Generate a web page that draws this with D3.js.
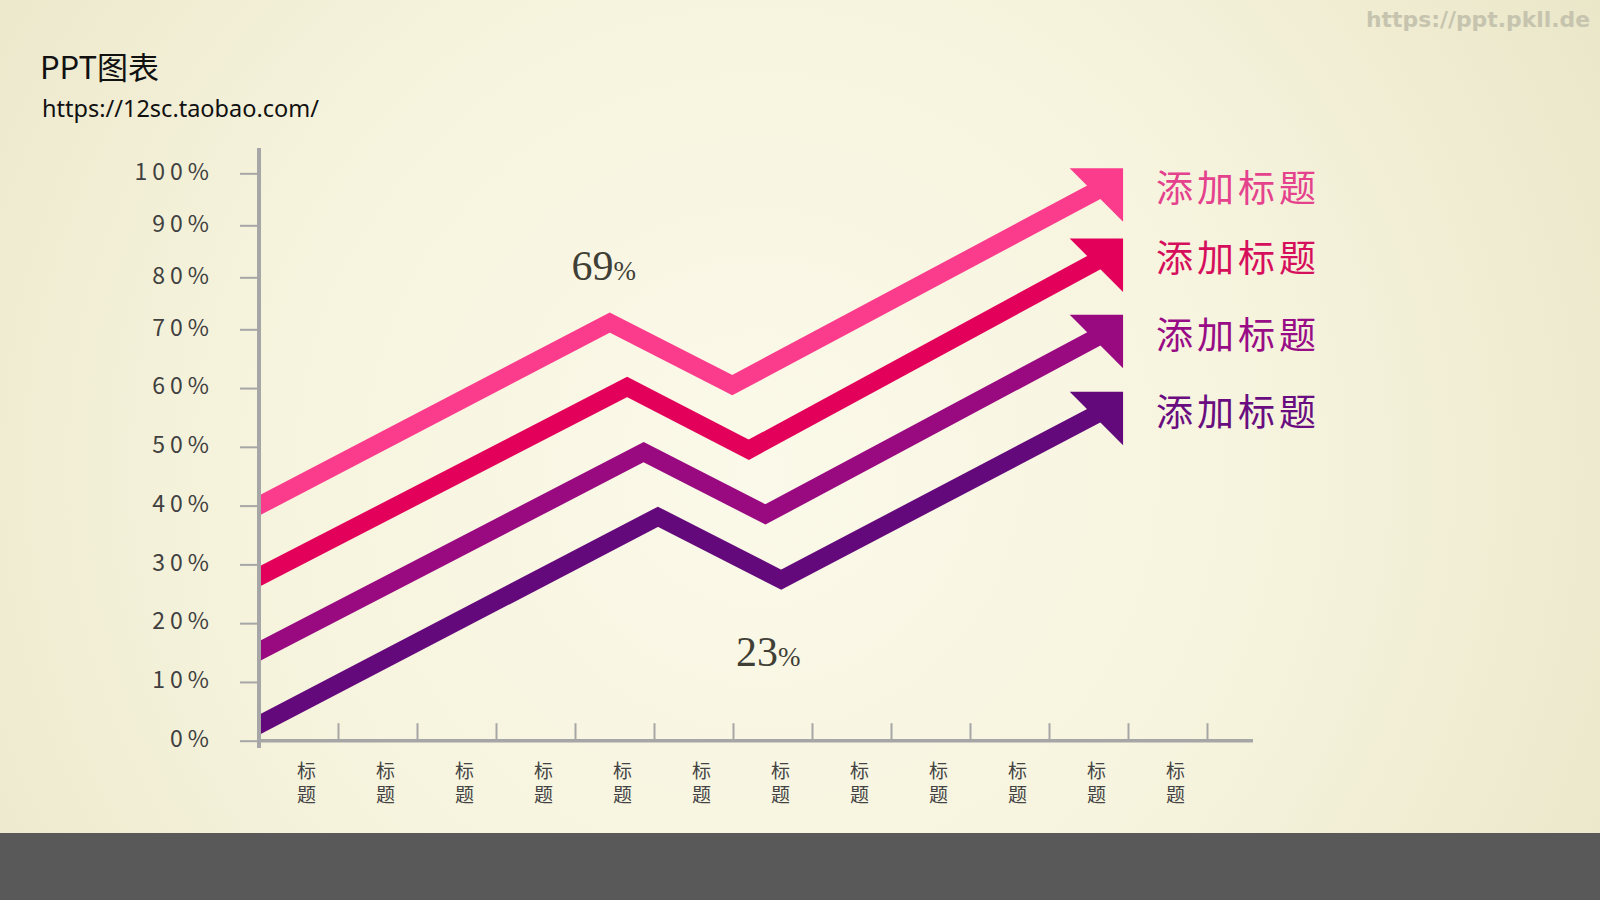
<!DOCTYPE html>
<html>
<head>
<meta charset="utf-8">
<script src="https://cdn.jsdelivr.net/npm/d3@7"></script>
<style>
  body { margin: 0; overflow: hidden; }
  svg { display: block; }
</style>
</head>
<body>
<div id="chart"></div>
<script>
// category labels along the bottom, one per band
const categories = ["标题", "标题", "标题", "标题", "标题", "标题", "标题", "标题", "标题", "标题", "标题", "标题"];
const yTickValues = [0, 10, 20, 30, 40, 50, 60, 70, 80, 90, 100];
const seriesLabels = ["添加标题", "添加标题", "添加标题", "添加标题"];
const seriesColors = ["#fb3b8b", "#e3005a", "#990a80", "#64097c"];
const labelColors = ["#e4428d", "#d60f5c", "#980c86", "#690d80"];

// [x in category widths from the y axis, y in percent]
const lineOne   = [[0, 40.0], [4.44, 71.3], [5.99, 60.5], [10.71, 97.5]];
const lineTwo   = [[0, 27.9], [4.66, 60.2], [6.20, 49.5], [10.71, 84.0]];
const lineThree = [[0, 15.2], [4.87, 49.1], [6.41, 38.5], [10.71, 69.4]];
const lineFour  = [[0, 2.7],  [5.05, 38.1], [6.61, 27.4], [10.71, 56.3]];
const seriesData = [lineOne, lineTwo, lineThree, lineFour];

// callout numbers: peak of the first line, trough of the last one
const calloutTexts = ["69", "23"];

const width = 1600, height = 900;
const svg = d3.select("#chart").append("svg")
  .attr("width", width).attr("height", height);

const defs = svg.append("defs");
const bg = defs.append("radialGradient").attr("id", "bg")
  .attr("gradientUnits", "userSpaceOnUse")
  .attr("cx", 760).attr("cy", 470).attr("r", 980);
bg.append("stop").attr("offset", "0%").attr("stop-color", "#fbf9e9");
bg.append("stop").attr("offset", "55%").attr("stop-color", "#f6f3dd");
bg.append("stop").attr("offset", "100%").attr("stop-color", "#e9e6c8");

svg.append("rect").attr("width", width).attr("height", height).attr("fill", "url(#bg)");
svg.append("rect").attr("y", 833).attr("width", width).attr("height", height - 833).attr("fill", "#595959");

// titles
svg.append("text").attr("x", 40).attr("y", 79)
  .attr("font-family", "'Noto Sans CJK SC', 'Noto Sans', sans-serif")
  .attr("font-size", 31).attr("fill", "#111").text("PPT图表");
svg.append("text").attr("x", 42).attr("y", 117)
  .attr("font-family", "'Noto Sans', 'Open Sans', sans-serif")
  .attr("font-size", 23.5).attr("fill", "#111").text("https://12sc.taobao.com/");
svg.append("text").attr("x", 1366).attr("y", 27)
  .attr("font-family", "'DejaVu Sans', sans-serif").attr("font-weight", "bold")
  .attr("font-size", 22).attr("fill", "#c6c4ae")
  .attr("textLength", 224).attr("lengthAdjust", "spacingAndGlyphs")
  .text("https://ppt.pkll.de");

// scales: the upper three tick steps are drawn shorter than the rest
const x = d3.scaleLinear().domain([0, 12]).range([259, 1207]);
const y = d3.scaleLinear().domain([0, 70, 100]).range([740.7, 329.3, 173.3]);
const band = d3.scaleBand().domain(d3.range(categories.length)).range([x(0), x(12)]);

const axisColor = "#a6a6a6";

// y axis
const yAxis = svg.append("g").attr("transform", `translate(${x(0) - 1},0)`)
  .call(d3.axisLeft(y).tickValues(yTickValues).tickSize(18).tickPadding(26)
    .tickFormat(d => d + "%"));
yAxis.select(".domain").remove();
yAxis.selectAll(".tick line").attr("stroke", axisColor).attr("stroke-width", 2);
yAxis.selectAll(".tick text")
  .attr("font-family", "'Noto Sans CJK SC', 'Noto Sans', sans-serif")
  .attr("font-size", 23).attr("fill", "#404040")
  .attr("letter-spacing", 5).attr("dy", "0.25em");

// x axis, ticks point up into the plot
const xAxis = svg.append("g").attr("transform", `translate(0,${y(0)})`)
  .call(d3.axisBottom(x).tickValues(d3.range(1, 13)).tickSize(-17.5).tickFormat(""));
xAxis.select(".domain").remove();
xAxis.selectAll(".tick line").attr("stroke", axisColor).attr("stroke-width", 2);

svg.selectAll(".cat").data(categories).join("text")
  .attr("class", "cat")
  .attr("transform", (d, i) => `translate(${band(i) + band.bandwidth() / 2 + 8},771)`)
  .attr("font-family", "'Noto Sans CJK SC', sans-serif")
  .attr("font-size", 19).attr("fill", "#444").attr("text-anchor", "middle")
  .selectAll("tspan").data(d => d.split("")).join("tspan")
  .attr("x", 0).attr("y", (c, j) => j * 24).attr("dy", "0.35em").text(c => c);

// lines, clipped at the y axis
defs.append("clipPath").attr("id", "plot")
  .append("rect").attr("x", x(0)).attr("y", 0).attr("width", width).attr("height", height);

const lineGen = d3.line();
const shaftW = 18, headLeg = 53.4, headOff = 18;

seriesData.forEach((pts, i) => {
  const px = pts.map(p => [x(p[0]), y(p[1])]);
  // run the first segment a little behind the axis so the clip cuts it flat
  const dx = px[1][0] - px[0][0], dy = px[1][1] - px[0][1], len = Math.hypot(dx, dy);
  const lead = [px[0][0] - 15 * dx / len, px[0][1] - 15 * dy / len];
  svg.append("path")
    .attr("d", lineGen([lead, ...px]))
    .attr("clip-path", "url(#plot)")
    .attr("fill", "none").attr("stroke", seriesColors[i])
    .attr("stroke-width", shaftW).attr("stroke-linejoin", "miter");

  const end = px[px.length - 1];
  const tip = [end[0] + headOff, end[1] - headOff];
  svg.append("path")
    .attr("d", lineGen([tip, [tip[0] - headLeg, tip[1]], [tip[0], tip[1] + headLeg]]) + "Z")
    .attr("fill", seriesColors[i]);

  svg.append("text")
    .attr("x", tip[0] + 33).attr("y", tip[1] + 21).attr("dy", "0.35em")
    .attr("font-family", "'Noto Sans CJK SC', sans-serif")
    .attr("font-size", 37).attr("letter-spacing", 4)
    .attr("fill", labelColors[i]).text(seriesLabels[i]);
});

// axis lines on top of the line ends
svg.append("line").attr("x1", x(0)).attr("x2", x(0))
  .attr("y1", 148).attr("y2", 748)
  .attr("stroke", axisColor).attr("stroke-width", 4);
svg.append("line").attr("x1", x(0)).attr("x2", x(12) + 46)
  .attr("y1", y(0)).attr("y2", y(0))
  .attr("stroke", axisColor).attr("stroke-width", 3.5);

// callouts
const peak = lineOne[1], trough = lineFour[2];
const callouts = [
  { t: calloutTexts[0], cx: x(peak[0]) - 6, cy: y(peak[1]) - 43 },
  { t: calloutTexts[1], cx: x(trough[0]) - 13, cy: y(trough[1]) + 86 }
];
callouts.forEach(c => {
  const t = svg.append("text").attr("x", c.cx).attr("y", c.cy)
    .attr("text-anchor", "middle")
    .attr("font-family", "'Liberation Serif', 'DejaVu Serif', serif")
    .attr("fill", "#3f3f36");
  t.append("tspan").attr("font-size", 42).text(c.t);
  t.append("tspan").attr("font-size", 27).text("%");
});
</script>
</body>
</html>
